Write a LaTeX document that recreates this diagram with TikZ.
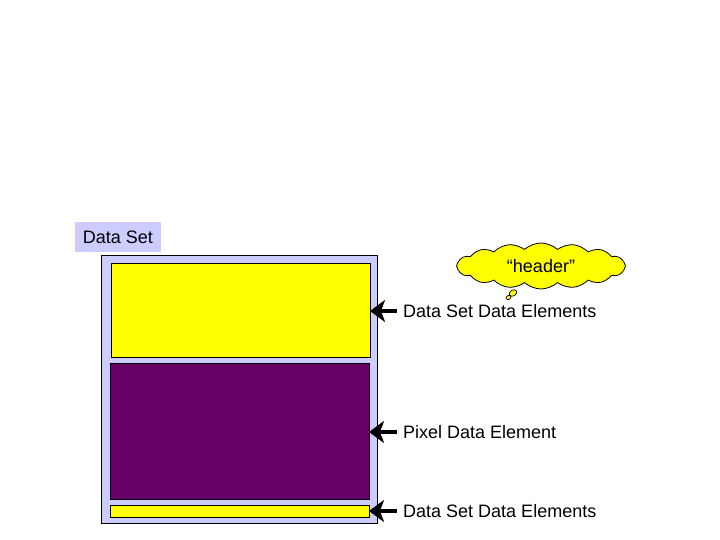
\documentclass[tikz,border=0pt]{standalone}
\usepackage{fontspec}
\setmainfont{Liberation Sans}
\usetikzlibrary{shapes.symbols,shapes.geometric,arrows.meta}
\definecolor{lav}{RGB}{204,204,255}
\definecolor{yel}{RGB}{255,255,0}
\definecolor{pur}{RGB}{102,0,102}
\tikzset{
  box/.style={draw=black, line width=0.8pt, inner sep=0pt, outer sep=0pt, rectangle},
  lbl/.style={font=\fontsize{18}{20}\selectfont, anchor=west, inner sep=0pt},
  arr/.style={line width=4.5pt, -{Stealth[length=15pt 0,width=22pt 0,inset=4pt 0]}},
}
\begin{document}
\begin{tikzpicture}[x=1pt,y=-1pt]
\useasboundingbox (0,0) rectangle (720,540);
% Data Set label
\node[fill=lav, minimum width=86pt, minimum height=30pt, inner sep=0pt, anchor=center,
      font=\fontsize{18}{20}\selectfont] (dslabel) at (118,237) {Data Set};
% outer box
\node[box, fill=lav, minimum width=276pt, minimum height=268pt] (outer) at (239,389) {};
% inner parts
\node[box, fill=yel, minimum width=259pt, minimum height=94pt] (top) at (240.5,310) {};
\node[box, fill=pur, minimum width=259pt, minimum height=136pt] (pix) at (239.5,431) {};
\node[box, fill=yel, minimum width=259pt, minimum height=12pt] (bot) at (239.5,511) {};
% labels
\node[lbl] (l1) at (403,311) {Data Set Data Elements};
\node[lbl] (l2) at (403,432) {Pixel Data Element};
\node[lbl] (l3) at (403,511) {Data Set Data Elements};
% arrows
\draw[arr] ([xshift=-6pt]l1.west) -- (top.east |- l1.west);
\draw[arr] ([xshift=-6pt]l2.west) -- (pix.east |- l2.west);
\draw[arr] ([xshift=-6pt]l3.west) -- (bot.east |- l3.west);
% cloud
\node[cloud, draw=black, line width=0.8pt, fill=yel, cloud puffs=16, cloud puff arc=85,
      aspect=3.8, minimum width=169pt, minimum height=46pt, inner sep=0pt,
      font=\fontsize{18}{20}\selectfont] (cloud) at (541,266) {“header”};
\node[ellipse, draw=black, line width=0.7pt, fill=yel, minimum width=8pt, minimum height=6pt, inner sep=0pt, rotate=30] (b1) at (513,293) {};
\node[ellipse, draw=black, line width=0.7pt, fill=yel, minimum width=5pt, minimum height=4pt, inner sep=0pt, rotate=30] (b2) at (508.5,297.5) {};
\end{tikzpicture}
\end{document}
